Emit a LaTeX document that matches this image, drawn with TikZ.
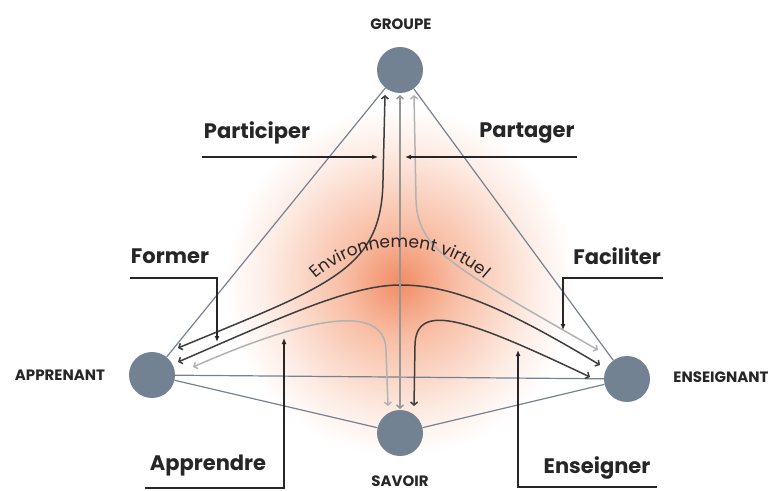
\documentclass[tikz,border=0pt]{standalone}
\usepackage{fontspec}
\setsansfont{Poppins}
\usetikzlibrary{arrows.meta,decorations.text}

\definecolor{polegray}{RGB}{114,130,146}
\definecolor{edgegray}{RGB}{118,130,144}
\definecolor{darkflow}{RGB}{62,62,62}
\definecolor{lightflow}{RGB}{178,178,178}
\definecolor{midflow}{RGB}{150,150,150}
\definecolor{glowA}{RGB}{242,140,100}
\definecolor{glowB}{RGB}{248,190,165}
\definecolor{glowC}{RGB}{253,236,228}
\definecolor{labelink}{RGB}{38,38,38}

\pgfdeclareradialshading{envglow}{\pgfpointorigin}{color(0bp)=(glowA); color(8bp)=(glowB); color(19bp)=(glowC); color(25bp)=(white); color(50bp)=(white)}

\begin{document}
\begin{tikzpicture}[x=1pt,y=1pt,
    pole/.style={circle, fill=polegray, minimum size=46pt, inner sep=0pt},
    polename/.style={font=\sffamily\bfseries\fontsize{15}{15}\selectfont, text=labelink},
    verb/.style={font=\sffamily\bfseries\fontsize{21}{21}\selectfont, text=labelink},
    side/.style={edgegray, line width=1.2pt},
    flow/.style={{Straight Barb[length=3pt,width=7pt]}-{Straight Barb[length=3pt,width=7pt]},
          line width=1.5pt},
    pointer/.style={-{Latex[length=6pt,width=5pt]}, line width=1.4pt, labelink}]
    \useasboundingbox (0,0) rectangle (775,490);
    % lueur de l'environnement
    \shade[shading=envglow] (400,208) circle (175);

    % les quatre poles
    \node[pole] (groupe) at (400,420) {};
    \node[pole] (apprenant) at (152,115) {};
    \node[pole] (enseignant) at (627,111) {};
    \node[pole] (savoir) at (400,57) {};
    \node[polename] at (401,466) {GROUPE};
    \node[polename] at (60,115) {APPRENANT};
    \node[polename] at (721,113) {ENSEIGNANT};
    \node[polename] at (400,9) {SAVOIR};

    \draw[side] (groupe) -- (apprenant);
    \draw[side] (groupe) -- (enseignant);
    \draw[side] (apprenant) -- (savoir);
    \draw[side] (savoir) -- (enseignant);
    \draw[side] (apprenant) -- (enseignant);

    % flux entre les poles
    \coordinate (ga) at (385,395);
    \coordinate (gm) at (400,395);
    \coordinate (ge) at (414,395);
    \coordinate (ag) at (178,142);
    \coordinate (ae) at (178,128);
    \coordinate (as) at (193,123);
    \coordinate (eg) at (598,140);
    \coordinate (ea) at (600,125);
    \coordinate (es) at (590,113);
    \coordinate (sa) at (388,84);
    \coordinate (sm) at (400,81);
    \coordinate (se) at (414,84);
    \draw[flow,darkflow] (ag) .. controls (330,205) and (382,220)
          .. (383,310) -- (ga);
    \draw[flow,lightflow] (ge) -- (416,290)
          .. controls (418,240) and (450,225) .. (eg);
    \draw[flow,darkflow] (ae) .. controls (280,172) and (350,205)
          .. (400,205) .. controls (450,205) and (500,185) .. (ea);
    \draw[flow,lightflow] (as) .. controls (300,170) and (385,190)
          .. (386,140) -- (sa);
    \draw[flow,darkflow] (se) -- (415,145)
          .. controls (416,190) and (470,170) .. (es);
    \draw[flow,midflow] (gm) -- (sm);

    \path[decorate,decoration={text along path,text align=center,
          text={|\sffamily\fontsize{17}{17}\selectfont\color{labelink}|Environnement virtuel}}]
          (400,116) ++(140:127) arc[start angle=140,end angle=40,radius=127];

    % les verbes
    \node[verb] (participer) at (257,357) {Participer};
    \node[verb] (partager) at (527,357) {Partager};
    \node[verb] (former) at (170,234) {Former};
    \node[verb] (faciliter) at (617,234) {Faciliter};
    \node[verb] (apprendre) at (208,24) {Apprendre};
    \node[verb] (enseigner) at (597,22) {Enseigner};

    \coordinate (participer-a) at (202,333);
    \coordinate (participer-b) at (378,333);
    \coordinate (partager-a) at (577,333);
    \coordinate (partager-b) at (405,333);
    \coordinate (former-a) at (130,212);
    \coordinate (former-b) at (217,148);
    \coordinate (faciliter-a) at (663,212);
    \coordinate (faciliter-b) at (563,160);
    \coordinate (apprendre-a) at (145,2);
    \coordinate (apprendre-b) at (284,152);
    \coordinate (enseigner-a) at (657,3);
    \coordinate (enseigner-b) at (518,140);
    \draw[pointer] (participer-a) -- (participer-b);
    \draw[pointer] (partager-a) -- (partager-b);
    \draw[pointer] (former-a) -| (former-b);
    \draw[pointer] (faciliter-a) -| (faciliter-b);
    \draw[pointer] (apprendre-a) -| (apprendre-b);
    \draw[pointer] (enseigner-a) -| (enseigner-b);
\end{tikzpicture}
\end{document}
